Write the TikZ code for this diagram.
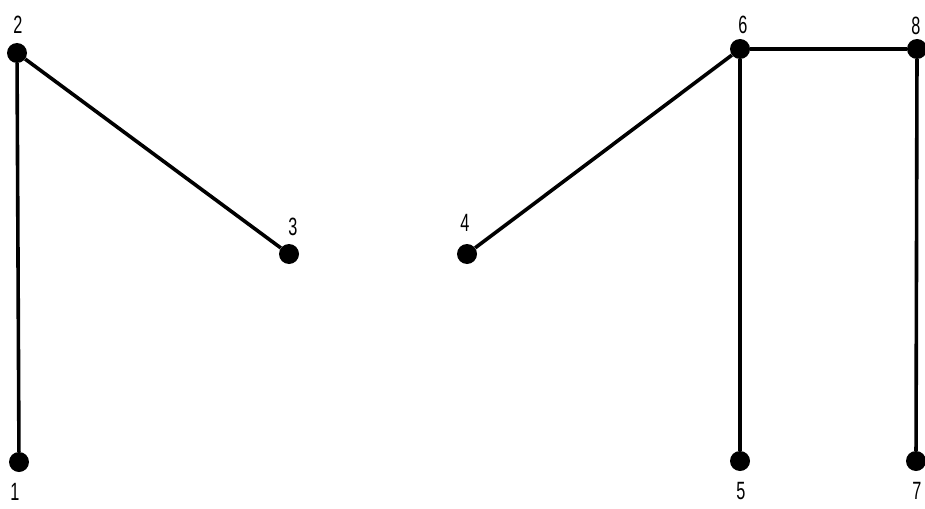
\documentclass[tikz,border=0pt]{standalone}
\usepackage{fontspec}
\setmainfont{Liberation Sans}
\begin{document}
\begin{tikzpicture}[x=1pt,y=-1pt,
  dot/.style={circle,fill=black,inner sep=0pt,minimum size=20pt},
  lbl/.style={inner sep=0pt,font=\fontsize{25}{25}\selectfont},
  edge/.style={line width=3.6pt}]
\useasboundingbox (0,0) rectangle (925,508);
\node[dot] (n1) at (19,462) {};
\node[dot] (n2) at (17,53) {};
\node[dot] (n3) at (289,254) {};
\node[dot] (n4) at (467,254) {};
\node[dot] (n5) at (740,461) {};
\node[dot] (n6) at (740,49) {};
\node[dot] (n7) at (916,461) {};
\node[dot] (n8) at (917,49) {};
\draw[edge] (n1) -- (n2) -- (n3);
\draw[edge] (n4) -- (n6) -- (n5);
\draw[edge] (n6) -- (n8) -- (n7);
\node[lbl] (l1) at (15,492) {\scalebox{0.65}[1]{1}};
\node[lbl] (l2) at (18,25) {\scalebox{0.65}[1]{2}};
\node[lbl] (l3) at (293,227) {\scalebox{0.65}[1]{3}};
\node[lbl] (l4) at (465,223) {\scalebox{0.65}[1]{4}};
\node[lbl] (l5) at (741,491) {\scalebox{0.65}[1]{5}};
\node[lbl] (l6) at (743,25) {\scalebox{0.65}[1]{6}};
\node[lbl] (l7) at (917,491) {\scalebox{0.65}[1]{7}};
\node[lbl] (l8) at (916,26) {\scalebox{0.65}[1]{8}};
\end{tikzpicture}
\end{document}
